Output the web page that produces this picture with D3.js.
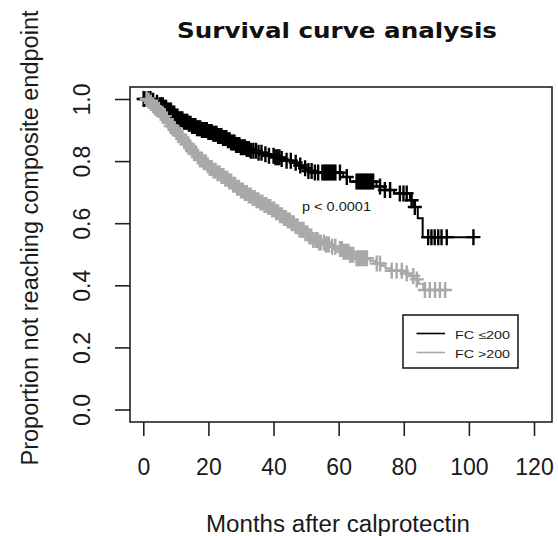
<!DOCTYPE html>
<html><head><meta charset="utf-8">
<script src="https://cdn.jsdelivr.net/npm/d3@7"></script>
<style>html,body{margin:0;padding:0;background:#fff;} svg{display:block;}</style>
</head><body>
<svg id="chart" width="558" height="536"></svg>
<script>
// ---- data ----
const titleText = "Survival curve analysis";
const xLabel = "Months after calprotectin";
const yLabel = "Proportion not reaching composite endpoint";
const pText = "p < 0.0001";
const xTicks = [0, 20, 40, 60, 80, 100, 120];
const yTicks = [0.0, 0.2, 0.4, 0.6, 0.8, 1.0];
const seriesNames = ["FC \u2264200", "FC >200"];

// FC <= 200 (black) : event times and survival after each step
const blackTimes = [0, 2.5, 3.8, 5.0, 6.2, 7.4, 8.6, 9.8, 11.0, 12.3, 13.6, 15.0, 16.5, 18.0, 19.6, 21.2, 22.8, 24.2, 25.6, 27.0, 28.4, 29.8, 31.4, 33.0, 34.8, 36.6, 38.4, 40.2, 42.0, 44.0, 45.8, 47.4, 49.0, 50.6, 52.2, 61.4, 63.5, 71.6, 74.2, 77.0, 81.9, 83.0, 84.3, 85.8];
const blackSurv  = [1.0, 0.994, 0.988, 0.980, 0.972, 0.963, 0.953, 0.944, 0.935, 0.927, 0.920, 0.913, 0.906, 0.900, 0.894, 0.888, 0.881, 0.874, 0.867, 0.860, 0.852, 0.845, 0.839, 0.833, 0.827, 0.822, 0.817, 0.812, 0.807, 0.801, 0.795, 0.786, 0.777, 0.768, 0.763, 0.749, 0.734, 0.718, 0.707, 0.696, 0.674, 0.652, 0.616, 0.555];
const blackEnd = 101.4;
const blackCensor = [0.1, 0.6, 1.5, 2.2, 3.0, 4.2, 5.0, 5.5, 6.0, 6.5, 7.0, 7.5, 8.0, 8.5, 9.0, 9.5, 10.0, 10.5, 11.0, 11.5, 12.0, 12.5, 13.0, 13.5, 14.0, 14.5, 15.0, 15.5, 16.0, 16.5, 17.0, 17.5, 18.0, 18.5, 19.0, 19.5, 20.0, 20.5, 21.0, 21.5, 22.0, 22.5, 23.0, 23.5, 24.0, 24.5, 25.0, 25.5, 26.0, 26.5, 27.0, 27.5, 28.0, 28.5, 29.0, 29.5, 30.0, 30.6, 31.2, 31.8, 32.4, 33.0, 33.8, 34.6, 35.4, 36.3, 37.5, 38.6, 40.0, 40.6, 41.2, 41.8, 42.5, 44.0, 45.3, 46.8, 48.2, 49.7, 50.7, 51.7, 52.7, 53.7, 55.0, 55.6, 56.0, 56.5, 57.0, 57.5, 58.0, 58.5, 59.0, 60.4, 62.5, 65.5, 66.0, 66.5, 67.0, 67.5, 68.0, 68.5, 69.0, 69.5, 70.0, 70.6, 72.7, 74.2, 75.8, 78.8, 79.9, 80.9, 82.4, 83.4, 87.5, 88.5, 89.5, 90.6, 91.6, 93.2, 101.4];

// FC > 200 (gray)
const grayTimes = [0, 1.2, 2.0, 2.8, 3.6, 4.4, 5.2, 6.0, 6.8, 7.6, 8.4, 9.2, 10.0, 10.8, 11.6, 12.4, 13.2, 14.0, 14.8, 15.6, 16.4, 17.4, 18.4, 19.4, 20.4, 21.6, 22.8, 24.0, 25.2, 26.4, 27.6, 28.8, 30.0, 31.2, 32.4, 33.6, 34.8, 36.0, 37.2, 38.4, 39.6, 40.8, 42.0, 43.2, 44.4, 45.6, 46.8, 48.0, 49.4, 50.8, 52.2, 54.0, 55.8, 57.4, 59.4, 61.4, 63.2, 65.2, 69.6, 71.2, 72.8, 74.4, 75.8, 79.5, 81.8, 83.2, 84.6, 86.0];
const graySurv  = [1.0, 0.995, 0.988, 0.980, 0.973, 0.965, 0.955, 0.945, 0.934, 0.923, 0.913, 0.903, 0.893, 0.884, 0.874, 0.864, 0.854, 0.845, 0.835, 0.825, 0.815, 0.805, 0.796, 0.787, 0.778, 0.769, 0.761, 0.752, 0.743, 0.734, 0.724, 0.714, 0.705, 0.697, 0.689, 0.681, 0.674, 0.667, 0.659, 0.652, 0.644, 0.635, 0.626, 0.617, 0.609, 0.600, 0.590, 0.579, 0.568, 0.557, 0.546, 0.538, 0.531, 0.524, 0.517, 0.508, 0.498, 0.487, 0.479, 0.470, 0.462, 0.455, 0.447, 0.438, 0.430, 0.419, 0.405, 0.385];
const grayEnd = 92.7;
const grayCensor = [1.0, 1.6, 2.3, 3.0, 3.6, 4.2, 4.8, 5.4, 6.0, 6.6, 7.2, 7.8, 8.4, 9.0, 9.6, 10.2, 10.8, 11.4, 12.0, 12.6, 13.2, 13.8, 14.4, 15.0, 15.6, 16.2, 16.8, 17.4, 18.0, 18.6, 19.2, 19.8, 20.4, 21.0, 21.6, 22.2, 22.8, 23.4, 24.0, 24.6, 25.2, 25.8, 26.4, 27.0, 27.6, 28.2, 28.8, 29.4, 30.0, 30.6, 31.2, 31.8, 32.4, 33.0, 33.6, 34.2, 34.8, 35.4, 36.0, 36.6, 37.2, 37.8, 38.4, 39.0, 39.6, 40.2, 40.8, 41.4, 42.0, 42.6, 43.2, 43.8, 44.4, 45.0, 45.6, 46.2, 46.8, 47.4, 48.0, 48.6, 49.2, 49.8, 50.4, 51.0, 51.6, 52.2, 53.0, 53.5, 54.0, 54.5, 55.5, 56.0, 56.5, 57.0, 58.0, 59.0, 60.4, 61.0, 61.5, 62.0, 62.5, 63.0, 63.5, 64.0, 64.5, 65.5, 66.0, 66.5, 67.0, 67.5, 68.0, 68.7, 71.7, 72.7, 76.3, 77.8, 79.4, 80.9, 82.9, 84.0, 86.5, 88.0, 89.6, 91.1, 92.7];

// ---- drawing ----
const svg = d3.select("#chart");
const box = {left: 130, right: 552, top: 87, bottom: 422};
const x = d3.scaleLinear().domain([0, 120]).range([143.3, 534]);
const y = d3.scaleLinear().domain([0, 1]).range([409.5, 99]);
const FONT = "'Liberation Sans', Arial, sans-serif";
const BLACK = "#000";
const GRAY = "#a9a9a9";

// title
svg.append("text").attr("x", 337).attr("y", 38).attr("text-anchor", "middle")
  .attr("font-family", "'DejaVu Sans', Verdana, sans-serif").attr("font-weight", "bold")
  .attr("font-size", 21).attr("fill", "#111")
  .attr("textLength", 320).attr("lengthAdjust", "spacingAndGlyphs")
  .text(titleText);

// box
svg.append("rect").attr("x", box.left).attr("y", box.top)
  .attr("width", box.right - box.left).attr("height", box.bottom - box.top)
  .attr("fill", "none").attr("stroke", "#222").attr("stroke-width", 1.6);

// x axis
const gx = svg.append("g").attr("transform", `translate(0,${box.bottom})`)
  .call(d3.axisBottom(x).tickValues(xTicks).tickSize(14).tickPadding(0).tickFormat(d3.format("d")));
gx.select(".domain").remove();
gx.selectAll(".tick line").attr("stroke", "#222").attr("stroke-width", 1.6);
gx.selectAll(".tick text").attr("font-family", FONT).attr("font-size", 23).attr("fill", "#1a1a1a")
  .attr("y", 53).attr("dy", null);

// y axis
const gy = svg.append("g").attr("transform", `translate(${box.left},0)`)
  .call(d3.axisLeft(y).tickValues(yTicks).tickSize(15).tickFormat(d3.format(".1f")));
gy.select(".domain").remove();
gy.selectAll(".tick line").attr("stroke", "#222").attr("stroke-width", 1.6);
gy.selectAll(".tick text").attr("font-family", FONT).attr("font-size", 23).attr("fill", "#1a1a1a")
  .attr("transform", "rotate(-90)").attr("x", 0).attr("y", -40).attr("dy", null)
  .attr("text-anchor", "middle");

// axis labels
svg.append("text").attr("x", 338).attr("y", 532).attr("text-anchor", "middle")
  .attr("font-family", FONT).attr("font-size", 23).attr("fill", "#1a1a1a")
  .attr("textLength", 264).attr("lengthAdjust", "spacingAndGlyphs").text(xLabel);
svg.append("text").attr("transform", "translate(38,238) rotate(-90)").attr("text-anchor", "middle")
  .attr("font-family", FONT).attr("font-size", 23).attr("fill", "#1a1a1a")
  .attr("textLength", 455).attr("lengthAdjust", "spacingAndGlyphs").text(yLabel);

// curves
function stepPoints(times, surv, end) {
  const pts = times.map((t, i) => [t, surv[i]]);
  pts.push([end, surv[surv.length - 1]]);
  return pts;
}
function survAt(times, surv, t) {
  let s = surv[0];
  for (let i = 0; i < times.length; i++) if (times[i] <= t) s = surv[i];
  return s;
}
const line = d3.line().x(d => x(d[0])).y(d => y(d[1])).curve(d3.curveStepAfter);

const series = [
  {times: blackTimes, surv: blackSurv, end: blackEnd, censor: blackCensor, color: BLACK},
  {times: grayTimes, surv: graySurv, end: grayEnd, censor: grayCensor, color: GRAY}
];
series.forEach(s => {
  const g = svg.append("g");
  g.append("path").attr("d", line(stepPoints(s.times, s.surv, s.end)))
    .attr("fill", "none").attr("stroke", s.color).attr("stroke-width", 2);
  g.selectAll("path.cens").data(s.censor).join("path").attr("class", "cens")
    .attr("d", t => {
      const px = x(t), py = y(survAt(s.times, s.surv, t));
      return `M${px - 7},${py}H${px + 7}M${px},${py - 8}V${py + 8}`;
    })
    .attr("stroke", s.color).attr("stroke-width", 2.4).attr("fill", "none");
});

// p-value
svg.append("text").attr("x", 302).attr("y", 211)
  .attr("font-family", FONT).attr("font-size", 13).attr("fill", "#1a1a1a")
  .attr("textLength", 69).attr("lengthAdjust", "spacingAndGlyphs").text(pText);

// legend
const lg = svg.append("g");
lg.append("rect").attr("x", 403).attr("y", 315).attr("width", 115).attr("height", 53)
  .attr("fill", "#fff").attr("stroke", "#111").attr("stroke-width", 1.5);
[BLACK, GRAY].forEach((c, i) => {
  const ly = 333.5 + i * 19;
  lg.append("line").attr("x1", 416.5).attr("x2", 445).attr("y1", ly).attr("y2", ly)
    .attr("stroke", c).attr("stroke-width", 1.6);
  lg.append("text").attr("x", 455).attr("y", ly + 5.5)
    .attr("font-family", FONT).attr("font-size", 11).attr("fill", "#1a1a1a")
    .attr("textLength", 55).attr("lengthAdjust", "spacingAndGlyphs").text(seriesNames[i]);
});
</script>
</body></html>
